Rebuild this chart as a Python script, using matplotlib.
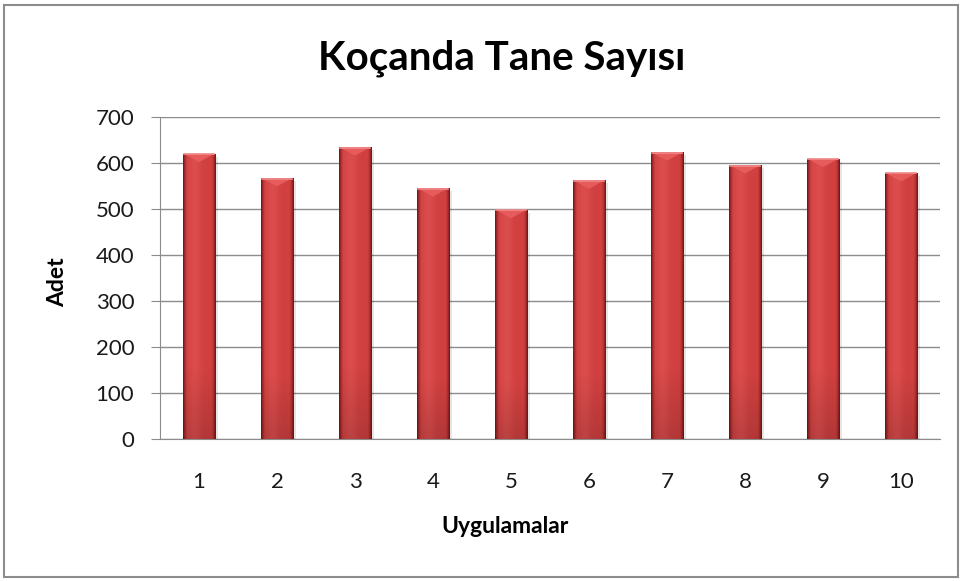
import matplotlib
matplotlib.use("Agg")
import matplotlib.pyplot as plt
import numpy as np
from matplotlib.patches import Rectangle

categories = ["1", "2", "3", "4", "5", "6", "7", "8", "9", "10"]
values = [620, 567, 634, 545, 498, 562, 623, 595, 609, 578]
yticks = [0, 100, 200, 300, 400, 500, 600, 700]
title = "Koçanda Tane Sayısı"
xlabel = "Uygulamalar"
ylabel = "Adet"

plt.rcParams['font.family'] = ['Lato', 'DejaVu Sans']

W, H = 962, 581
fig = plt.figure(figsize=(W/100, H/100), dpi=100)
fig.patch.set_facecolor("white")
fig.add_artist(Rectangle((4/W, 4/H), 954/W, 572/H, transform=fig.transFigure,
                         fill=False, edgecolor="#8c8c8c", linewidth=1.5))

ax = fig.add_axes([160/W, 1-439/H, 780/W, 322/H])
x = np.arange(len(categories))
bw = 0.42
bars = ax.bar(x, values, width=bw, color="#cc3838", edgecolor="none", zorder=3)

# horizontal gradient: flat body with darker edges
g = np.linspace(0, 1, 80)
edge = np.clip(np.minimum(g, 1 - g) / 0.12, 0, 1) ** 0.7
dark = np.array([0.42, 0.07, 0.07])
body = np.array([0.82, 0.25, 0.25])
hl = np.array([0.86, 0.30, 0.30])
cols = dark[None, :] + (body - dark)[None, :] * edge[:, None]
cols = cols + (hl - body)[None, :] * np.exp(-((g - 0.35) / 0.2) ** 2)[:, None]
vt = np.linspace(0, 1, 60)[:, None, None]
img = cols[None, :, :] * (0.86 + 0.14 * np.clip(vt * 4, 0, 1))
img = np.clip(img, 0, 1)

for b, v in zip(bars, values):
    x0 = b.get_x()
    w = b.get_width()
    ax.add_patch(Rectangle((x0 + 0.035, 0), w, v - 6, facecolor="#000000", alpha=0.10,
                           edgecolor="none", zorder=2))
    im = ax.imshow(img, extent=[x0, x0 + w, 0, v], aspect="auto", zorder=4,
                   interpolation="bilinear", origin="lower")
    im.set_clip_path(b)
    top = np.array([[x0 + w*0.04, v], [x0 + w*0.96, v], [x0 + w*0.5, v - 18]])
    ax.fill(top[:, 0], top[:, 1], color="#e65c5c", zorder=5, lw=0)
    ax.plot([x0 + w*0.03, x0 + w*0.97], [v - 0.8, v - 0.8], color="#f08a8a", lw=1.2, zorder=6)

ax.set_xlim(-0.5, len(categories) - 0.5)
ax.set_ylim(0, 700)
ax.set_yticks(yticks)
ax.set_xticks(x)
ax.set_xticklabels(categories)
ax.yaxis.grid(True, color="#8c8c8c", linewidth=1, zorder=0)
ax.set_axisbelow(True)
for s in ["top", "right"]:
    ax.spines[s].set_visible(False)
ax.spines["left"].set_color("#8c8c8c")
ax.spines["bottom"].set_color("#8c8c8c")
ax.tick_params(axis="y", length=6.5, color="#8c8c8c", labelsize=16, pad=12, labelcolor="#1a1a1a")
ax.tick_params(axis="x", length=0, labelsize=16, pad=24, labelcolor="#1a1a1a")

fig.text(502/W, 1-70/H, title, fontsize=29, fontweight="bold", ha="center", va="baseline")
fig.text(505/W, 1-533/H, xlabel, fontsize=16.5, fontweight="bold", ha="center", va="baseline")
fig.text(58/W, 1-282/H, ylabel, fontsize=16.5, fontweight="bold", ha="center", va="center",
         rotation=90)

fig.savefig("out.png", dpi=100)
